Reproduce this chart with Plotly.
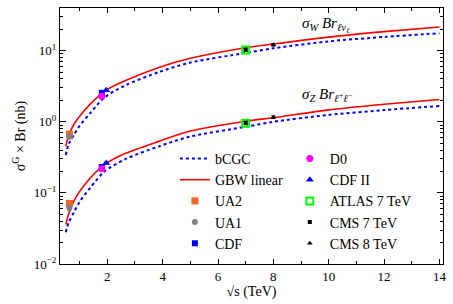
import plotly.graph_objects as go

# ---- theory curves (sqrt(s) in TeV, sigma*Br in nb) ----
curve_x = [0.5, 0.6, 0.8, 1.0, 1.4, 1.9, 2.66, 3.86, 5.0, 7.0, 8.0, 10.0, 12.0, 14.0]
gbw_W   = [0.45, 0.64, 0.93, 1.2, 1.8, 2.7, 3.8, 5.8, 7.8, 11.0, 12.4, 15.5, 18.5, 21.5]
bcgc_W  = [0.34, 0.48, 0.66, 0.88, 1.35, 2.2, 3.26, 5.0, 6.8, 9.3, 10.8, 13.5, 15.6, 17.6]
gbw_Z   = [0.036, 0.05, 0.078, 0.105, 0.165, 0.25, 0.36, 0.53, 0.74, 1.02, 1.14, 1.47, 1.76, 2.06]
bcgc_Z  = [0.028, 0.038, 0.054, 0.075, 0.12, 0.20, 0.30, 0.45, 0.62, 0.85, 1.0, 1.25, 1.46, 1.67]

# ---- experimental data: [W, Z] ----
exp_names = ["UA2", "UA1", "CDF", "D0", "CDF II", "ATLAS 7 TeV", "CMS 7 TeV", "CMS 8 TeV"]
exp_x     = [0.63, 0.63, 1.8, 1.8, 1.96, 7.0, 7.0, 8.0]
exp_W     = [0.67, 0.62, 2.55, 2.29, 2.77, 10.2, 10.3, 12.1]
exp_Z     = [0.071, 0.062, 0.231, 0.219, 0.263, 0.95, 0.97, 1.16]
exp_dW    = [0.05, 0.05, 0.12, 0.11, 0.06, 0.4, 0.4, 0.5]
exp_dZ    = [0.006, 0.006, 0.012, 0.011, 0.006, 0.04, 0.04, 0.05]
exp_color = ["#f26522", "#808080", "#0000ff", "#ff00ff", "#0000ff", "#00ff00", "#000000", "#000000"]
exp_sym   = ["square", "circle", "square", "circle", "triangle-up", "square-open", "square", "triangle-up"]
exp_size  = [7, 6, 6, 7, 7, 7, 4, 5]
exp_leg   = ["legend", "legend", "legend", "legend2", "legend2", "legend2", "legend2", "legend2"]

FONT = "Liberation Serif"

fig = go.Figure()

fig.add_trace(go.Scatter(x=curve_x, y=bcgc_W, mode="lines", name="bCGC",
                         line=dict(color="#0000ff", width=2, dash="dot", shape="spline", smoothing=0.8),
                         legendgroup="bcgc", legend="legend"))
fig.add_trace(go.Scatter(x=curve_x, y=bcgc_Z, mode="lines", name="bCGC", showlegend=False,
                         line=dict(color="#0000ff", width=2, dash="dot", shape="spline", smoothing=0.8),
                         legendgroup="bcgc"))
fig.add_trace(go.Scatter(x=curve_x, y=gbw_W, mode="lines", name="GBW linear",
                         line=dict(color="#ff0000", width=1.6, shape="spline", smoothing=0.8),
                         legendgroup="gbw", legend="legend"))
fig.add_trace(go.Scatter(x=curve_x, y=gbw_Z, mode="lines", name="GBW linear", showlegend=False,
                         line=dict(color="#ff0000", width=1.6, shape="spline", smoothing=0.8),
                         legendgroup="gbw"))

for i, nm in enumerate(exp_names):
    for j, (yv, dy) in enumerate([(exp_W, exp_dW), (exp_Z, exp_dZ)]):
        fig.add_trace(go.Scatter(
            x=[exp_x[i]], y=[yv[i]], mode="markers", name=nm,
            showlegend=(j == 0), legendgroup=nm, legend=exp_leg[i],
            marker=dict(symbol=exp_sym[i], size=exp_size[i], color=exp_color[i],
                        line=dict(width=2 if exp_sym[i].endswith("open") else 0, color=exp_color[i])),
            error_y=dict(type="data", array=[dy[i]], color=exp_color[i], thickness=1, width=2),
        ))

fig.add_annotation(x=8.95, y=1.364, xref="x", yref="y", xanchor="left", yanchor="middle",
                   text="<i>σ<sub>W</sub> Br<sub>ℓν<sub>ℓ</sub></sub></i>", showarrow=False,
                   font=dict(family=FONT, size=15, color="black"))
fig.add_annotation(x=8.95, y=0.373, xref="x", yref="y", xanchor="left", yanchor="middle",
                   text="<i>σ<sub>Z</sub> Br<sub>ℓ<sup>+</sup>ℓ<sup>−</sup></sub></i>", showarrow=False,
                   font=dict(family=FONT, size=15, color="black"))

leg_common = dict(bgcolor="rgba(0,0,0,0)", borderwidth=0, font=dict(family=FONT, size=14, color="black"),
                  yanchor="bottom", xanchor="left", tracegroupgap=0, itemwidth=30)

fig.update_layout(
    width=453, height=304,
    margin=dict(l=60, r=7, t=7, b=40),
    paper_bgcolor="white", plot_bgcolor="white",
    font=dict(family=FONT, size=13, color="black"),
    legend=dict(x=0.30, y=0.02, **leg_common),
    legend2=dict(x=0.60, y=0.02, **leg_common),
    xaxis=dict(range=[0.29, 14.13], tickvals=[2, 4, 6, 8, 10, 12, 14], ticks="inside", ticklen=5,
               tickcolor="black", showline=True, linecolor="black", linewidth=1, mirror="ticks",
               showgrid=False, zeroline=False,
               minor=dict(ticks="inside", ticklen=3, dtick=1, tick0=0, tickcolor="black", showgrid=False),
               title=dict(text="√s (TeV)", standoff=2, font=dict(size=14)),
               tickfont=dict(size=13)),
    yaxis=dict(type="log", range=[-2, 1.6], tickvals=[0.01, 0.1, 1, 10],
               ticktext=["10<sup>−2</sup>", "10<sup>−1</sup>", "10<sup>0</sup>", "10<sup>1</sup>"],
               ticks="inside", ticklen=6, tickcolor="black", showline=True, linecolor="black",
               linewidth=1, mirror="ticks", showgrid=False, zeroline=False,
               minor=dict(ticks="inside", ticklen=3, dtick="D1", tickcolor="black", showgrid=False),
               title=dict(text="σ<sup>G</sup> × Br (nb)", standoff=4, font=dict(size=14)),
               tickfont=dict(size=13)),
)

fig.write_html("out.html", config={"displayModeBar": False},
               post_script="document.body.style.margin='0';document.body.style.overflow='hidden';")
